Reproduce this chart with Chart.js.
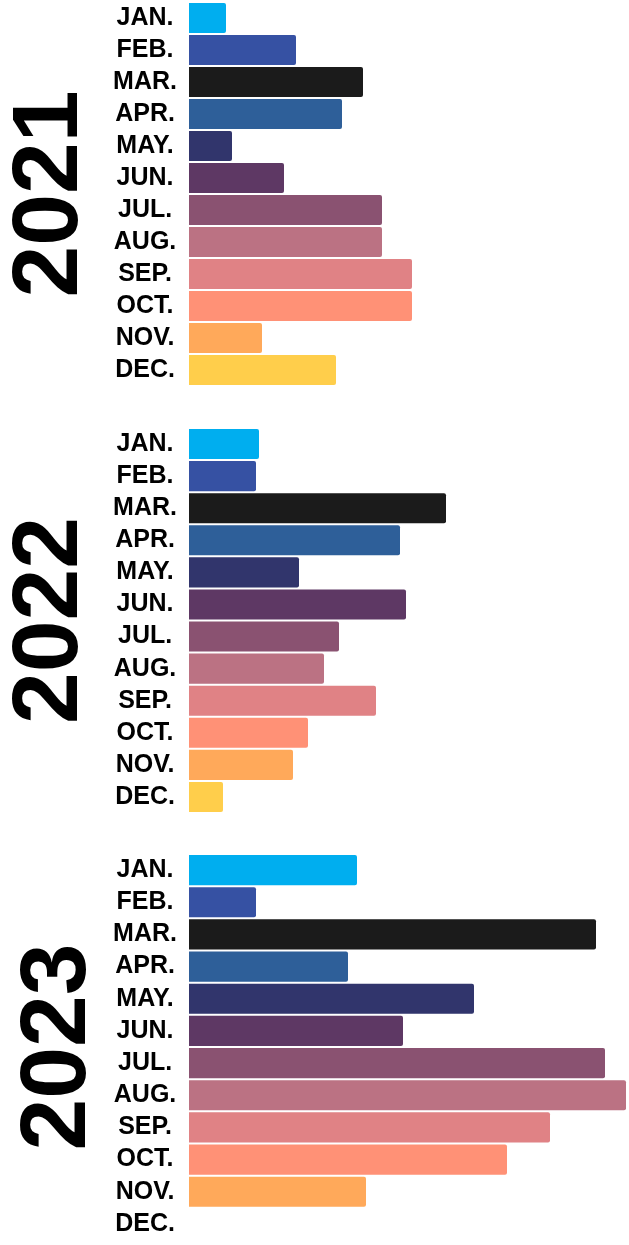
<!DOCTYPE html>
<html>
<head>
<meta charset="utf-8">
<script src="https://cdn.jsdelivr.net/npm/chart.js@4"></script>
<style>
  html, body { margin: 0; padding: 0; background: #ffffff; }
  body { width: 629px; height: 1245px; position: relative; overflow: hidden; }
  canvas { position: absolute; left: 0; }
</style>
</head>
<body>
<canvas id="c2021" width="629" height="384" style="top:2px"></canvas>
<canvas id="c2022" width="629" height="385" style="top:428px"></canvas>
<canvas id="c2023" width="629" height="386" style="top:854px"></canvas>
<script>
// ---- data ----
const months = ['JAN.', 'FEB.', 'MAR.', 'APR.', 'MAY.', 'JUN.', 'JUL.', 'AUG.', 'SEP.', 'OCT.', 'NOV.', 'DEC.'];
const monthColors = ['#00AEEF', '#3651A3', '#1B1B1B', '#2E5F99', '#31356C', '#5E3864',
                     '#8A5271', '#BB7283', '#E08285', '#FF9176', '#FFA95A', '#FFCE4B'];
const years = ['2021', '2022', '2023'];
const values2021 = [37, 107, 174, 153, 43, 95, 193, 193, 223, 223, 73, 147];
const values2022 = [70, 67, 257, 211, 110, 217, 150, 135, 187, 119, 104, 34];
const values2023 = [168, 67, 407, 159, 285, 214, 416, 437, 361, 318, 177, 0];
const xMax = 440;

// ---- drawing ----
const FONT = "'Liberation Sans', Arial, sans-serif";
const panels = [
  { id: 'c2021', year: years[0], values: values2021, titleShift: 8 },
  { id: 'c2022', year: years[1], values: values2022, titleShift: 8 },
  { id: 'c2023', year: years[2], values: values2023, titleShift: 16 }
];

panels.forEach(p => {
  new Chart(document.getElementById(p.id), {
    type: 'bar',
    data: {
      labels: months,
      datasets: [{
        data: p.values,
        backgroundColor: monthColors,
        borderWidth: 0,
        borderRadius: 2,
        barPercentage: 0.94,
        categoryPercentage: 1
      }]
    },
    options: {
      indexAxis: 'y',
      responsive: false,
      animation: false,
      layout: { padding: 0 },
      plugins: { legend: { display: false }, tooltip: { enabled: false } },
      scales: {
        x: { display: false, min: 0, max: xMax },
        y: {
          grid: { display: false, drawTicks: false },
          border: { display: false },
          afterFit: (scale) => {
            scale.width = 189;
            scale.paddingTop = 0;
            scale.paddingBottom = 0;
          },
          ticks: {
            color: '#000000',
            autoSkip: false,
            crossAlign: 'center',
            padding: 12,
            font: { family: FONT, weight: 'bold', size: 25 }
          },
          title: {
            display: true,
            text: p.year,
            color: '#000000',
            font: { family: FONT, weight: 'bold', size: 93, lineHeight: 0.94 },
            padding: { top: p.titleShift, bottom: 0 }
          }
        }
      }
    }
  });
});
</script>
</body>
</html>
